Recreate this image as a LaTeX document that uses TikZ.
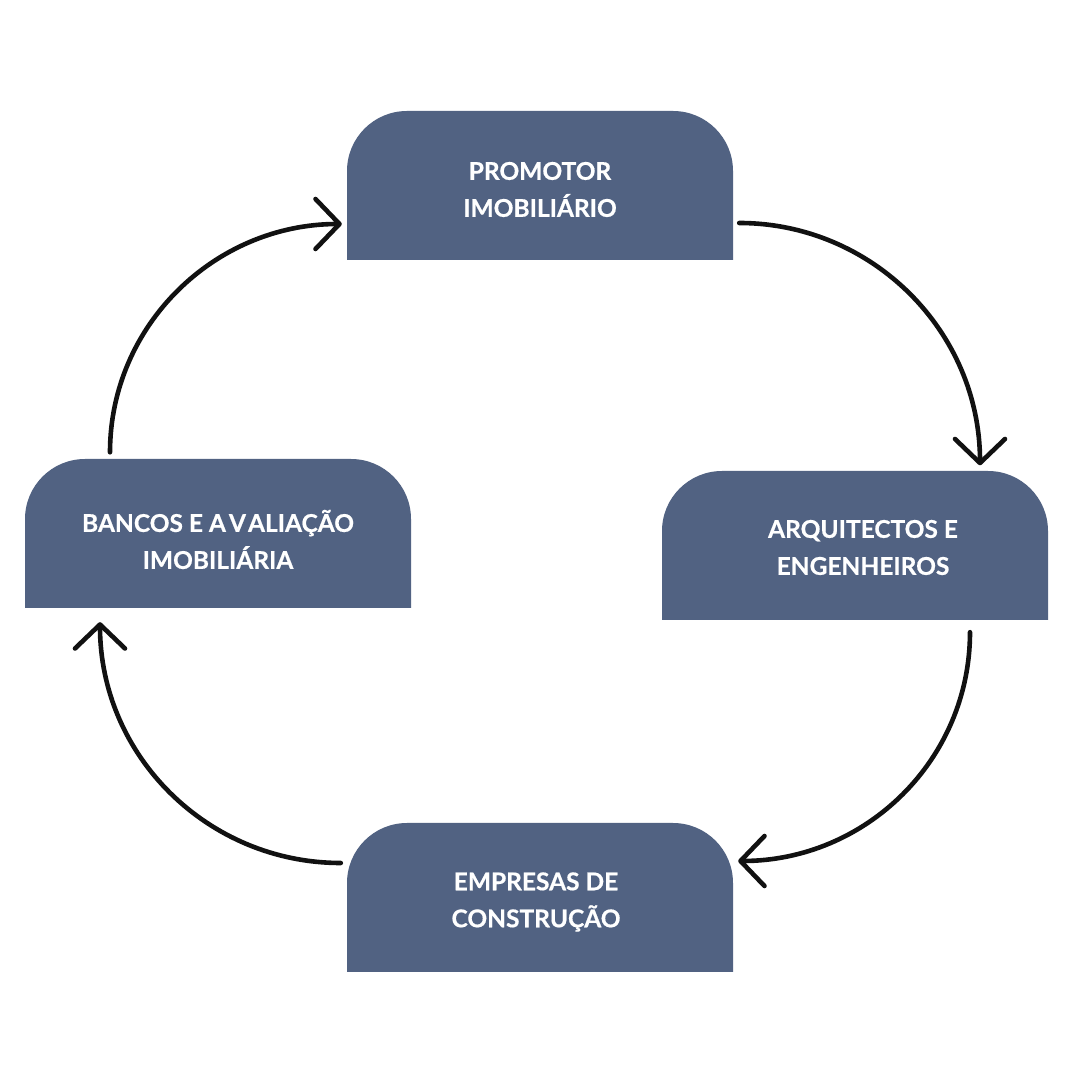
\documentclass[tikz,border=0pt]{standalone}
\usepackage{fontspec}
\setmainfont{Lato}[BoldFeatures={FakeBold=0.6}]
\usetikzlibrary{arrows.meta}
\definecolor{boxc}{RGB}{81,98,130}
\definecolor{inkc}{RGB}{17,17,17}
\tikzset{
  box/.style={minimum width=386pt, minimum height=149pt, inner sep=0pt,
    path picture={
      \fill[boxc] (path picture bounding box.south west)
        -- ([yshift=-60pt]path picture bounding box.north west)
        arc[start angle=180, end angle=90, radius=60pt]
        -- ([xshift=-60pt]path picture bounding box.north east)
        arc[start angle=90, end angle=0, radius=60pt]
        -- (path picture bounding box.south east) -- cycle;
    }},
  boxtext/.style={text=white, align=center, inner sep=0pt,
    font=\fontsize{24.5pt}{37pt}\selectfont\bfseries},
  arr/.style={draw=inkc, line width=4.6pt, line cap=round, line join=round,
    -{Straight Barb[length=24pt, width=50pt, round]}}
}
\begin{document}
\begin{tikzpicture}[x=1pt,y=1pt]
\useasboundingbox (0,0) rectangle (1080,1080);
\fill[white] (0,0) rectangle (1080,1080);

\node[box] (top) at (540,894.5) {};
\node[box] (right) at (855,534.5) {};
\node[box] (bottom) at (540,182.5) {};
\node[box] (left) at (218,546.5) {};

\node[boxtext] (toptext) at ([yshift=-4pt]top.center) {PROMOTOR\\IMOBILIÁRIO};
\node[boxtext] (righttext) at ([shift={(8,-2)}]right.center) {ARQUITECTOS E\\ENGENHEIROS};
\node[boxtext] (bottomtext) at ([shift={(-4,-4.5)}]bottom.center) {EMPRESAS DE\\CONSTRUÇÃO};
\node[boxtext] (lefttext) at ([yshift=-6pt]left.center) {BANCOS E A\kern3pt V\kern2pt ALIAÇÃO\\IMOBILIÁRIA};

\coordinate (a1s) at ([shift={(6,-37.5)}]top.east);
\coordinate (a1e) at ([shift={(125,5.5)}]right.north);
\coordinate (a2s) at ([shift={(115,-12)}]right.south);
\coordinate (a2e) at ([shift={(5,36.5)}]bottom.east);
\coordinate (a3s) at ([shift={(-6,34.5)}]bottom.west);
\coordinate (a3e) at ([shift={(-118,-14)}]left.south);
\coordinate (a4s) at ([shift={(-108,6.5)}]left.north);
\coordinate (a4e) at ([shift={(-5,-38.5)}]top.west);

\draw[arr] (a1s) to[out=0, in=90] (a1e);
\draw[arr] (a2s) to[out=-90, in=0] (a2e);
\draw[arr] (a3s) to[out=180, in=-90] (a3e);
\draw[arr] (a4s) to[out=90, in=180] (a4e);
\end{tikzpicture}
\end{document}
